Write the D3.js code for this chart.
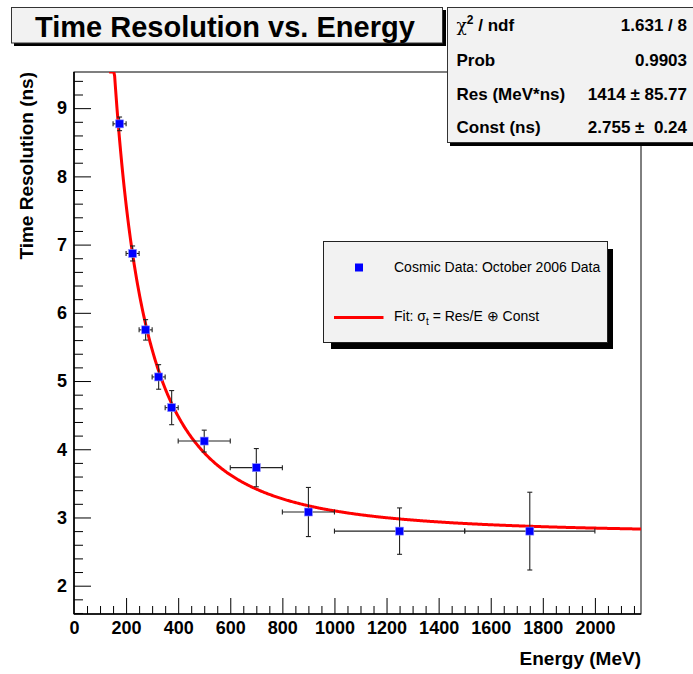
<!DOCTYPE html>
<html><head><meta charset="utf-8">
<script src="https://cdn.jsdelivr.net/npm/d3@7/dist/d3.min.js"></script>
<style>
body{margin:0;background:#fff}
text{font-family:"Liberation Sans",Arial,Helvetica,sans-serif}
</style>
</head><body>
<svg id="c" width="693" height="674"></svg>
<script>
// ---- data ----
const energy      = [175, 225, 275, 325, 375, 500, 700, 900, 1250, 1750];
const energyErr   = [25, 25, 25, 25, 25, 100, 100, 100, 250, 250];
const timeRes     = [8.77, 6.87, 5.75, 5.06, 4.61, 4.12, 3.73, 3.08, 2.80, 2.80];
const timeResErr  = [0.10, 0.11, 0.15, 0.18, 0.25, 0.16, 0.28, 0.36, 0.34, 0.57];
const xTickValues = [0, 200, 400, 600, 800, 1000, 1200, 1400, 1600, 1800, 2000];
const yTickValues = [2, 3, 4, 5, 6, 7, 8, 9];
const fitRes = 1414, fitConst = 2.755;      // fit parameters
const fitRange = [135, 2177];
const statsLabels = ["/ ndf", "Prob", "Res (MeV*ns)", "Const (ns)"];
const statsValues = ["1.631 / 8", "0.9903", "1414 \u00b1 85.77", "2.755 \u00b1  0.24"];
const titleText = "Time Resolution vs. Energy";
const xTitle = "Energy (MeV)", yTitle = "Time Resolution (ns)";
const legendData = "Cosmic Data: October 2006 Data";

// ---- layout ----
const svg = d3.select("#c");
const L = 74, R = 641, T = 72, B = 614;
const x = d3.scaleLinear().domain([0, 2177]).range([L, R]);
const y = d3.scaleLinear().domain([1.585, 9.53]).range([B, T]);

svg.append("defs").append("clipPath").attr("id", "fr")
  .append("rect").attr("x", L).attr("y", T).attr("width", R - L).attr("height", B - T);

// frame
svg.append("rect").attr("x", L).attr("y", T).attr("width", R - L).attr("height", B - T)
  .attr("fill", "none").attr("stroke", "#000").attr("stroke-width", 1);

// minor ticks
const xMinor = d3.range(0, 2177, 50).filter(v => v % 200 !== 0);
const yMinor = d3.range(16, 96, 2).map(v => v / 10).filter(v => Math.abs(v - Math.round(v)) > 1e-6);

const gxMinor = svg.append("g").attr("transform", `translate(0,${B})`)
  .call(d3.axisBottom(x).tickValues(xMinor).tickSize(-8).tickFormat(""));
const gx = svg.append("g").attr("transform", `translate(0,${B})`)
  .call(d3.axisBottom(x).tickValues(xTickValues).tickSize(-16).tickPadding(7).tickFormat(d3.format("d")));
const gyMinor = svg.append("g").attr("transform", `translate(${L},0)`)
  .call(d3.axisLeft(y).tickValues(yMinor).tickSize(-9).tickFormat(""));
const gy = svg.append("g").attr("transform", `translate(${L},0)`)
  .call(d3.axisLeft(y).tickValues(yTickValues).tickSize(-17).tickPadding(7).tickFormat(d3.format("d")));

[gxMinor, gx, gyMinor, gy].forEach(g => {
  g.select(".domain").remove();
  g.selectAll(".tick line").attr("stroke", "#000").attr("stroke-width", 1);
  g.selectAll(".tick text").attr("font-size", 18).attr("font-weight", "bold")
    .attr("fill", "#000").style("font-family", '"Liberation Sans",Arial,sans-serif');
});
gx.selectAll(".tick").filter(d => d === 0).select("line").remove();

// axis lines
svg.append("line").attr("x1", L).attr("x2", R).attr("y1", B).attr("y2", B)
  .attr("stroke", "#000").attr("stroke-width", 1.6);
svg.append("line").attr("x1", L).attr("x2", L).attr("y1", T).attr("y2", B)
  .attr("stroke", "#000").attr("stroke-width", 1.6);

// axis titles
svg.append("text").attr("x", R).attr("y", 665).attr("text-anchor", "end")
  .attr("font-size", 19).attr("font-weight", "bold").text(xTitle);
svg.append("text").attr("transform", `translate(33,${T}) rotate(-90)`).attr("text-anchor", "end")
  .attr("font-size", 19).attr("font-weight", "bold").text(yTitle);

// fit curve
const plot = svg.append("g").attr("clip-path", "url(#fr)");
const fitFn = e => Math.sqrt((fitRes / e) ** 2 + fitConst ** 2);
const fitPts = d3.range(fitRange[0], fitRange[1], 3).concat([fitRange[1]]);
plot.append("path")
  .datum(fitPts)
  .attr("fill", "none").attr("stroke", "#ff0000").attr("stroke-width", 3)
  .attr("d", d3.line().x(e => x(e)).y(e => y(Math.min(fitFn(e), y.domain()[1]))));

// error bars & markers
const pts = energy.map((e, i) => ({e, ex: energyErr[i], t: timeRes[i], et: timeResErr[i]}));
const eb = plot.append("g").attr("stroke", "#222").attr("stroke-width", 1.1);
const cap = 2.5;
pts.forEach(p => {
  const cx = x(p.e), cy = y(p.t);
  eb.append("line").attr("x1", x(p.e - p.ex)).attr("x2", x(p.e + p.ex)).attr("y1", cy).attr("y2", cy);
  eb.append("line").attr("x1", cx).attr("x2", cx).attr("y1", y(p.t - p.et)).attr("y2", y(p.t + p.et));
  eb.append("line").attr("x1", x(p.e - p.ex)).attr("x2", x(p.e - p.ex)).attr("y1", cy - cap).attr("y2", cy + cap);
  eb.append("line").attr("x1", x(p.e + p.ex)).attr("x2", x(p.e + p.ex)).attr("y1", cy - cap).attr("y2", cy + cap);
  eb.append("line").attr("x1", cx - cap).attr("x2", cx + cap).attr("y1", y(p.t - p.et)).attr("y2", y(p.t - p.et));
  eb.append("line").attr("x1", cx - cap).attr("x2", cx + cap).attr("y1", y(p.t + p.et)).attr("y2", y(p.t + p.et));
});
plot.selectAll("rect.m").data(pts).enter().append("rect").attr("class", "m")
  .attr("x", p => x(p.e) - 4).attr("y", p => y(p.t) - 4).attr("width", 8).attr("height", 8)
  .attr("fill", "#0000ff").attr("stroke", "#8f8fff").attr("stroke-width", 0.6);

// title box
svg.append("rect").attr("x", 14).attr("y", 10).attr("width", 432).attr("height", 36).attr("fill", "#000");
svg.append("rect").attr("x", 11.5).attr("y", 7.5).attr("width", 431).attr("height", 35.5)
  .attr("fill", "#f2f2f2").attr("stroke", "#333").attr("stroke-width", 1);
svg.append("text").attr("x", 35).attr("y", 36.5).attr("font-size", 29).attr("font-weight", "bold")
  .text(titleText);

// stats box
svg.append("rect").attr("x", 450).attr("y", 10).attr("width", 250).attr("height", 136).attr("fill", "#000");
svg.append("rect").attr("x", 447.5).attr("y", 7.5).attr("width", 250).attr("height", 135)
  .attr("fill", "#f2f2f2").attr("stroke", "#333").attr("stroke-width", 1);
const rowY = [31, 66, 99.5, 132.5];
statsLabels.forEach((lab, i) => {
  const t = svg.append("text").attr("x", 456.5).attr("y", rowY[i]).attr("font-size", 17).attr("font-weight", "bold");
  if (i === 0) {
    t.append("tspan").attr("font-weight", "normal").style("font-family", '"DejaVu Serif",serif').attr("font-size", 17).text("\u03c7");
    t.append("tspan").attr("dy", -7).attr("font-size", 12).text("2");
    t.append("tspan").attr("dy", 7).text(" " + lab);
  } else t.text(lab);
  svg.append("text").attr("x", 687).attr("y", rowY[i]).attr("text-anchor", "end")
    .attr("font-size", 17).attr("font-weight", "bold").attr("xml:space", "preserve")
    .style("white-space", "pre").text(statsValues[i]);
});

// legend box
svg.append("rect").attr("x", 331).attr("y", 249).attr("width", 282).attr("height", 100).attr("fill", "#000");
svg.append("rect").attr("x", 323.5).attr("y", 241.5).attr("width", 284).attr("height", 101)
  .attr("fill", "#f2f2f2").attr("stroke", "#222").attr("stroke-width", 1);
svg.append("rect").attr("x", 355).attr("y", 263.5).attr("width", 8).attr("height", 8).attr("fill", "#0000ff");
svg.append("text").attr("x", 394).attr("y", 272).attr("font-size", 14).text(legendData);
svg.append("line").attr("x1", 334).attr("x2", 383.5).attr("y1", 317.5).attr("y2", 317.5)
  .attr("stroke", "#ff0000").attr("stroke-width", 3);
const ft = svg.append("text").attr("x", 394).attr("y", 321).attr("font-size", 14);
ft.append("tspan").text("Fit: \u03c3");
ft.append("tspan").attr("dy", 4).attr("font-size", 10).text("t");
ft.append("tspan").attr("dy", -4).text(" = Res/E \u2295 Const");
</script>
</body></html>
